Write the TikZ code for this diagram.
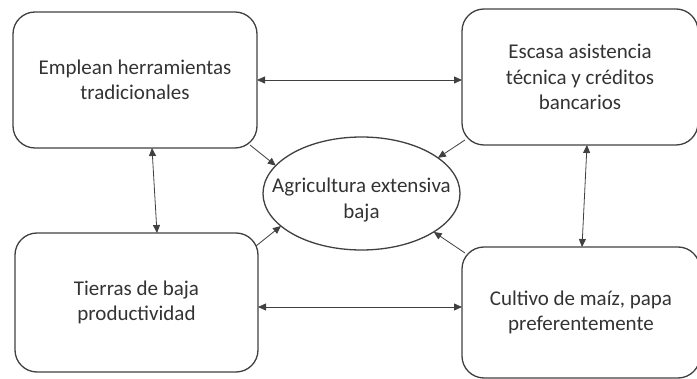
\documentclass[tikz,border=0pt]{standalone}
\usepackage{fontspec}
\setmainfont{Carlito}
\usetikzlibrary{shapes.geometric,arrows.meta,positioning,calc}
\tikzset{
  % Factor box: rounded corners, text centred
  rbox/.style={draw=black!75, rectangle, rounded corners=22pt, line width=1.3pt,
               align=center, inner sep=0pt, outer sep=0pt, text=black!80,
               font=\fontsize{21}{25.5}\selectfont},
  % Central effect: ellipse
  oval/.style={draw=black!75, ellipse, line width=1.3pt, minimum width=197pt,
               minimum height=113pt, inner sep=0pt, outer sep=0pt},
  ovaltext/.style={align=center, inner sep=0pt, text=black!80,
               font=\fontsize{21}{25.5}\selectfont},
  % Arrows
  flowbi/.style={{Triangle[length=8pt,width=7pt]}-{Triangle[length=8pt,width=7pt]},
                 line width=0.8pt, draw=black!75},
  flowarr/.style={-{Triangle[length=8pt,width=7pt]}, line width=0.8pt, draw=black!75}
}

\begin{document}
\begin{tikzpicture}[x=1pt, y=-1pt]
\useasboundingbox (0,0) rectangle (697,379);

% Four factors round the central effect
\node[rbox, minimum width=244pt, minimum height=136pt] (emplean) at (135,80)
  {Emplean herramientas\\tradicionales};
\node[rbox, minimum width=236pt, minimum height=136pt] (escasa) at (580,77)
  {Escasa asistencia\\técnica y créditos\\bancarios};
\node[rbox, minimum width=243pt, minimum height=139pt] (tierras) at (136.5,302.5)
  {Tierras de baja\\productividad};
\node[rbox, minimum width=238pt, minimum height=131pt] (cultivo) at (581,312.5)
  {Cultivo de maíz, papa\\preferentemente};

\node[oval] (agri) at (361.5,193.5) {};
\node[ovaltext] (agritext) at (361.5,200) {Agricultura extensiva\\baja};

% Links between the factors
\draw[flowbi] (emplean.east) -- (emplean.east -| escasa.west);
\draw[flowbi] ($(tierras.east)+(0,4.5)$) -- ($(tierras.east -| cultivo.west)+(0,4.5)$);
\draw[flowbi] ($(emplean.south)+(17,0)$) -- ($(tierras.north)+(20.5,0)$);
\draw[flowbi] ($(escasa.south)+(7,0)$) -- ($(cultivo.north)+(1,0)$);

% Each factor into the central effect
\draw[flowarr] ($(emplean.south east)+(-7,-3)$) -- (agri.162);
\draw[flowarr] ($(escasa.south west)+(3,-5)$) -- (agri.25);
\draw[flowarr] ($(tierras.north east)+(-2,13)$) -- (agri.202);
\draw[flowarr] ($(cultivo.north west)+(3,6)$) -- (agri.332);

\end{tikzpicture}
\end{document}
